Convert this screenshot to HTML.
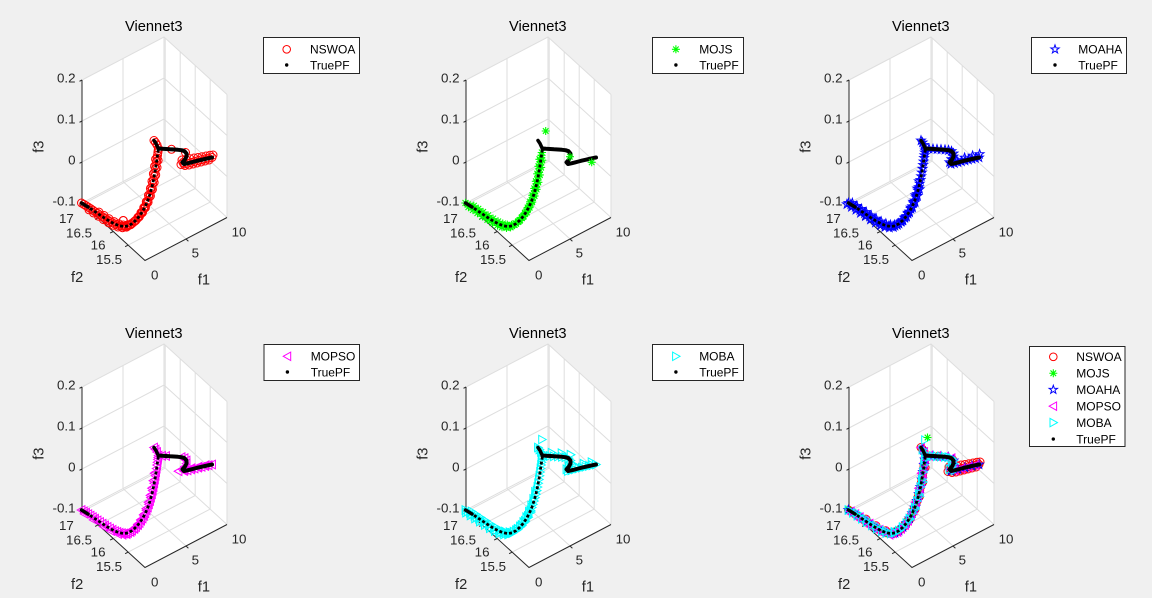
<!DOCTYPE html>
<html><head><meta charset="utf-8">
<style>
html,body{margin:0;padding:0;background:#f0f0f0;}
svg{display:block;}
text{font-family:"Liberation Sans",Arial,sans-serif;}
.t{font-size:14.67px;fill:#000;text-anchor:middle;}
.k{font-size:13.33px;fill:#262626;}
.e{text-anchor:end;}
.l{font-size:14.67px;fill:#262626;}
.m{text-anchor:middle;}
.g{font-size:12px;fill:#000;}
</style></head><body>
<svg width="1152" height="598" viewBox="0 0 1152 598" xmlns="http://www.w3.org/2000/svg">
<defs>
<marker id="mR" markerUnits="userSpaceOnUse" markerWidth="1" markerHeight="1" refX="0" refY="0" overflow="visible"><circle r="4" fill="none" stroke="#ff0000" stroke-width="1"/></marker>
<marker id="mG" markerUnits="userSpaceOnUse" markerWidth="1" markerHeight="1" refX="0" refY="0" overflow="visible"><path d="M0,-4.2V4.2M-4.2,0H4.2M-3,-3L3,3M3,-3L-3,3" stroke="#00ff00" stroke-width="1.1" fill="none"/></marker>
<marker id="mB" markerUnits="userSpaceOnUse" markerWidth="1" markerHeight="1" refX="0" refY="0" overflow="visible"><polygon points="0,-4.6 1.08,-1.48 4.37,-1.43 1.75,0.56 2.7,3.73 0,1.84 -2.7,3.73 -1.75,0.56 -4.37,-1.43 -1.08,-1.48" fill="none" stroke="#0000ff" stroke-width="1"/></marker>
<marker id="mM" markerUnits="userSpaceOnUse" markerWidth="1" markerHeight="1" refX="0" refY="0" overflow="visible"><polygon points="-4.3,0 3.4,-4.3 3.4,4.3" fill="none" stroke="#ff00ff" stroke-width="1"/></marker>
<marker id="mC" markerUnits="userSpaceOnUse" markerWidth="1" markerHeight="1" refX="0" refY="0" overflow="visible"><polygon points="4.3,0 -3.4,-4.3 -3.4,4.3" fill="none" stroke="#00ffff" stroke-width="1"/></marker>

<g id="sR"><circle r="3.8" fill="none" stroke="#ff0000" stroke-width="1"/></g>
<g id="sG"><path d="M0,-4V4M-4,0H4M-2.8,-2.8L2.8,2.8M2.8,-2.8L-2.8,2.8" stroke="#00ff00" stroke-width="1.1" fill="none"/></g>
<g id="sB"><polygon points="0,-4.4 1.03,-1.42 4.18,-1.36 1.67,0.54 2.59,3.56 0,1.76 -2.59,3.56 -1.67,0.54 -4.18,-1.36 -1.03,-1.42" fill="none" stroke="#0000ff" stroke-width="1"/></g>
<g id="sM"><polygon points="-4.2,0 3.3,-4.2 3.3,4.2" fill="none" stroke="#ff00ff" stroke-width="1"/></g>
<g id="sC"><polygon points="4.2,0 -3.3,-4.2 -3.3,4.2" fill="none" stroke="#00ffff" stroke-width="1"/></g>
<g id="sK"><circle r="1.7" fill="#000"/></g>

<g id="ax">
<polygon points="82,80 164,37 227,94.5 227,217.5 145,260.5 82,203" fill="#ffffff"/>
<path fill="none" stroke="#dedede" stroke-width="1" d="M82,80L164,37L227,94.5 M82,121L164,78L227,135.5 M82,162L164,119L227,176.5 M82,203L164,160L227,217.5 M123,181.5V58.5 M164,160V37 M165.2,161.1V38.1 M180.2,174.8V51.8 M195.2,188.5V65.5 M210.2,202.1V79.1 M227,217.5V94.5 M186,239L123,181.5 M128.2,245.1L210.2,202.1 M113.2,231.5L195.2,188.5 M98.2,217.8L180.2,174.8 M83.2,204.1L165.2,161.1"/>
<path fill="none" stroke="#262626" stroke-width="1" d="M82,80V203L145,260.5L227,217.5 M82,80l-2.5,1.3 M82,121l-2.5,1.3 M82,162l-2.5,1.3 M82,203l-2.5,1.3 M83.2,204.1l-3.1,1.6 M98.2,217.8l-3.1,1.6 M113.2,231.5l-3.1,1.6 M128.2,245.1l-3.1,1.6 M186,239l2.4,2.2"/>
</g>

<g id="tpf">
<path fill="none" stroke="#000" stroke-width="3.5" stroke-linecap="round" d="M81.5,203L88,207"/>
<path fill="none" stroke="#000" stroke-width="2.8" stroke-dasharray="3 2" d="M81.5,203L86,205.7 90.5,208.6 95,211.7 100,215 105,218.4 110,221.5 115,224.1 119.5,225.8 124,226.5 128,225.9 132,223.6 136,220.1 139.5,216 142.5,211.5 145.3,206.3 147.8,200.5 150,194 151.9,187.2 153.5,180 154.9,172.5 156.1,165 157.1,158 157.9,152.5 158.5,148.5"/>
<path fill="none" stroke="#000" stroke-width="3.5" stroke-linecap="round" stroke-linejoin="round" d="M158.5,149L156,143.5 154,140.5"/>
<path fill="none" stroke="#000" stroke-width="4" stroke-linecap="round" stroke-linejoin="round" d="M158.5,148.5L162,148.8 166,149 170,149.3 174,149.5 178,149.8 181.5,150.2 184.5,151.2 186.5,153.5 186.5,156.5 185,159.5 182.5,162.3 184,164 187.5,163.3 191,162.4 194.5,161.5 198,160.6 201.5,159.8 205,159 208.5,158.2 212,157.5"/>
</g>
</defs>

<rect width="1152" height="598" fill="#f0f0f0"/>

<!-- Plot 1: NSWOA -->
<g transform="translate(0,0)">
<use href="#ax"/>
<g fill="none" stroke="none" marker-start="url(#mR)" marker-mid="url(#mR)" marker-end="url(#mR)">
<path d="M81.5,203L83.75,204.35 86,205.7 88.25,207.15 90.5,208.6 92.75,210.15 95,211.7 97.5,213.35 100,215 102.5,216.7 105,218.4 107.5,219.95 110,221.5 112.5,222.8 115,224.1 117.25,224.95 119.5,225.8 121.75,226.15 124,226.5 126,226.2 128,225.9 130,224.75 132,223.6 134,221.85 136,220.1 137.75,218.05 139.5,216 141,213.75 142.5,211.5 143.9,208.9 145.3,206.3 146.55,203.4 147.8,200.5 148.9,197.25 150,194 150.95,190.6 151.9,187.2 152.7,183.6 153.5,180 154.2,176.25 154.9,172.5 155.5,168.75 156.1,165 156.6,161.5 157.1,158 157.5,155.25 157.9,152.5 158.2,150.5 158.5,148.5 157,145 155.5,142.5 154,140.5 M171.5,149.3L185.5,152.5 183,162.5 184,164 187.5,163.3 191,162.4 194.5,161.5 198,160.6 201.5,159.8 205,159 208.5,158.2 212,157.5 M182,160L186,159.5 190,158.8 194,158 198,157.5 202,156.8 206,156 210,155.3 213,155 M181,164.5L185,165.5 189,165 193,164 197,163 201,162 205,161 209,160"/>
<path transform="translate(-1.5,1.2)" d="M90.5,208.6L95,211.7 100,215 105,218.4 110,221.5 115,224.1 119.5,225.8 124,226.5 128,225.9 132,223.6 136,220.1 139.5,216 142.5,211.5 145.3,206.3 147.8,200.5 150,194 151.9,187.2 153.5,180 154.9,172.5 156.1,165 157.1,158"/>
<path transform="translate(1.5,-1.2)" d="M97.5,213.35L102.5,216.7 107.5,219.95 112.5,222.8 117.25,224.95 121.75,226.15 126,226.2 130,224.75 134,221.85 137.75,218.05 141,213.75 143.9,208.9 146.55,203.4 148.9,197.25 150.95,190.6 152.7,183.6 154.2,176.25 155.5,168.75 156.6,161.5 M121.7,221.7L121.8,221.7"/>
</g>
<use href="#tpf"/>
<text x="153.8" y="31" class="t">Viennet3</text>
<text x="75.5" y="82.3" class="k e">0.2</text>
<text x="75.5" y="123.3" class="k e">0.1</text>
<text x="75.5" y="164.3" class="k e">0</text>
<text x="75.5" y="205.3" class="k e">-0.1</text>
<text x="73.8" y="223" class="k e">17</text>
<text x="92" y="237.4" class="k e">16.5</text>
<text x="105.5" y="249.7" class="k e">16</text>
<text x="122" y="264" class="k e">15.5</text>
<text x="151" y="279.7" class="k">0</text>
<text x="191.6" y="257.4" class="k">5</text>
<text x="231.6" y="236.4" class="k">10</text>
<text x="71" y="282" class="l">f2</text>
<text x="197.8" y="284.6" class="l">f1</text>
<text transform="translate(43.6,146.7) rotate(-90)" class="l m">f3</text>
<rect x="263.5" y="37.5" width="96" height="36" fill="#fff" stroke="#262626" stroke-width="1"/>
<use href="#sR" x="286.7" y="49.3"/><text x="310" y="53.6" class="g">NSWOA</text>
<use href="#sK" x="286.7" y="65"/><text x="310" y="69.3" class="g">TruePF</text>
</g>

<!-- Plot 2: MOJS -->
<g transform="translate(384,0)">
<use href="#ax"/>
<g fill="none" stroke="none" marker-start="url(#mG)" marker-mid="url(#mG)" marker-end="url(#mG)">
<path d="M81.5,203L83.75,204.35 86,205.7 88.25,207.15 90.5,208.6 92.75,210.15 95,211.7 97.5,213.35 100,215 102.5,216.7 105,218.4 107.5,219.95 110,221.5 112.5,222.8 115,224.1 117.25,224.95 119.5,225.8 121.75,226.15 124,226.5 126,226.2 128,225.9 130,224.75 132,223.6 134,221.85 136,220.1 137.75,218.05 139.5,216 141,213.75 142.5,211.5 143.9,208.9 145.3,206.3 146.55,203.4 147.8,200.5 148.9,197.25 150,194 150.95,190.6 151.9,187.2 152.7,183.6 153.5,180 154.2,176.25 154.9,172.5 155.5,168.75 156.1,165 156.6,161.5 157.1,158 157.5,155.25 157.9,152.5"/>
<path transform="translate(-1.5,1.3)" d="M86,205.7L90.5,208.6 95,211.7 100,215 105,218.4 110,221.5 115,224.1 119.5,225.8 124,226.5 128,225.9 132,223.6 136,220.1 139.5,216 142.5,211.5 145.3,206.3 147.8,200.5 150,194 151.9,187.2 153.5,180 154.9,172.5 156.1,165 157.1,158"/>
<path transform="translate(1.5,-1.3)" d="M88.25,207.15L92.75,210.15 97.5,213.35 102.5,216.7 107.5,219.95 112.5,222.8 117.25,224.95 121.75,226.15 126,226.2 130,224.75 134,221.85 137.75,218.05 141,213.75 143.9,208.9 146.55,203.4 148.9,197.25 150.95,190.6 152.7,183.6 154.2,176.25 155.5,168.75 156.6,161.5"/>
</g>
<use href="#tpf"/>
<use href="#sG" x="161.7" y="131"/>
<use href="#sG" x="186" y="156.7"/>
<use href="#sG" x="207.7" y="162.3"/>
<text x="153.8" y="31" class="t">Viennet3</text>
<text x="75.5" y="82.3" class="k e">0.2</text>
<text x="75.5" y="123.3" class="k e">0.1</text>
<text x="75.5" y="164.3" class="k e">0</text>
<text x="75.5" y="205.3" class="k e">-0.1</text>
<text x="73.8" y="223" class="k e">17</text>
<text x="92" y="237.4" class="k e">16.5</text>
<text x="105.5" y="249.7" class="k e">16</text>
<text x="122" y="264" class="k e">15.5</text>
<text x="151" y="279.7" class="k">0</text>
<text x="191.6" y="257.4" class="k">5</text>
<text x="231.6" y="236.4" class="k">10</text>
<text x="71" y="282" class="l">f2</text>
<text x="197.8" y="284.6" class="l">f1</text>
<text transform="translate(43.6,146.7) rotate(-90)" class="l m">f3</text>
<rect x="268.5" y="37.5" width="91" height="36" fill="#fff" stroke="#262626" stroke-width="1"/>
<use href="#sG" x="291.9" y="49.3"/><text x="315.2" y="53.6" class="g">MOJS</text>
<use href="#sK" x="291.9" y="65"/><text x="315.2" y="69.3" class="g">TruePF</text>
</g>

<!-- Plot 3: MOAHA -->
<g transform="translate(767,0)">
<use href="#ax"/>
<g fill="none" stroke="none" marker-start="url(#mB)" marker-mid="url(#mB)" marker-end="url(#mB)">
<path d="M81.5,203L83.75,204.35 86,205.7 88.25,207.15 90.5,208.6 92.75,210.15 95,211.7 97.5,213.35 100,215 102.5,216.7 105,218.4 107.5,219.95 110,221.5 112.5,222.8 115,224.1 117.25,224.95 119.5,225.8 121.75,226.15 124,226.5 126,226.2 128,225.9 130,224.75 132,223.6 134,221.85 136,220.1 137.75,218.05 139.5,216 141,213.75 142.5,211.5 143.9,208.9 145.3,206.3 146.55,203.4 147.8,200.5 148.9,197.25 150,194 150.95,190.6 151.9,187.2 152.7,183.6 153.5,180 154.2,176.25 154.9,172.5 155.5,168.75 156.1,165 156.6,161.5 157.1,158 157.5,155.25 157.9,152.5 158.2,150.5 158.5,148.5 157,145 155.5,142.5 154,140.5 M162,148.8L166,149 170,149.3 174,149.5 178,149.8 181.5,150.2 184.5,151.2 186.5,153.5 186.5,156.5 185,159.5 182.5,162.3 184,164 187.5,163.3 191,162.4 194.5,161.5 198,160.6 201.5,159.8 205,159 208.5,158.2 212,157.5"/>
<path transform="translate(-1.6,1.3)" d="M81.5,203L86,205.7 90.5,208.6 95,211.7 100,215 105,218.4 110,221.5 115,224.1 119.5,225.8 124,226.5 128,225.9 132,223.6 136,220.1 139.5,216 142.5,211.5 145.3,206.3 147.8,200.5 150,194 151.9,187.2 153.5,180"/>
<path transform="translate(1.6,-1.3)" d="M83.75,204.35L88.25,207.15 92.75,210.15 97.5,213.35 102.5,216.7 107.5,219.95 112.5,222.8 117.25,224.95 121.75,226.15 126,226.2 130,224.75 134,221.85 137.75,218.05 141,213.75 143.9,208.9 146.55,203.4 148.9,197.25 150.95,190.6 M183,160.5L188,161.5 196,159 204,157 211,155.5"/>
</g>
<use href="#tpf"/>
<text x="153.8" y="31" class="t">Viennet3</text>
<text x="75.5" y="82.3" class="k e">0.2</text>
<text x="75.5" y="123.3" class="k e">0.1</text>
<text x="75.5" y="164.3" class="k e">0</text>
<text x="75.5" y="205.3" class="k e">-0.1</text>
<text x="73.8" y="223" class="k e">17</text>
<text x="92" y="237.4" class="k e">16.5</text>
<text x="105.5" y="249.7" class="k e">16</text>
<text x="122" y="264" class="k e">15.5</text>
<text x="151" y="279.7" class="k">0</text>
<text x="191.6" y="257.4" class="k">5</text>
<text x="231.6" y="236.4" class="k">10</text>
<text x="71" y="282" class="l">f2</text>
<text x="197.8" y="284.6" class="l">f1</text>
<text transform="translate(43.6,146.7) rotate(-90)" class="l m">f3</text>
<rect x="264.5" y="37.5" width="95" height="36" fill="#fff" stroke="#262626" stroke-width="1"/>
<use href="#sB" x="288" y="49.3"/><text x="311.3" y="53.6" class="g">MOAHA</text>
<use href="#sK" x="288" y="65"/><text x="311.3" y="69.3" class="g">TruePF</text>
</g>

<!-- Plot 4: MOPSO -->
<g transform="translate(0,307)">
<use href="#ax"/>
<g fill="none" stroke="none" marker-start="url(#mM)" marker-mid="url(#mM)" marker-end="url(#mM)">
<path d="M81.5,203L83.75,204.35 86,205.7 88.25,207.15 90.5,208.6 92.75,210.15 95,211.7 97.5,213.35 100,215 102.5,216.7 105,218.4 107.5,219.95 110,221.5 112.5,222.8 115,224.1 117.25,224.95 119.5,225.8 121.75,226.15 124,226.5 126,226.2 128,225.9 130,224.75 132,223.6 134,221.85 136,220.1 137.75,218.05 139.5,216 141,213.75 142.5,211.5 143.9,208.9 145.3,206.3 146.55,203.4 147.8,200.5 148.9,197.25 150,194 150.95,190.6 151.9,187.2 152.7,183.6 153.5,180 154.2,176.25 154.9,172.5 155.5,168.75 156.1,165 156.6,161.5 157.1,158 157.5,155.25 157.9,152.5 158.2,150.5 158.5,148.5 157,145 155.5,142.5 154,140.5 M162,148.8L166,149 181.5,150.2 184.5,151.2 186.5,153.5 186.5,156.5 185,159.5 182.5,162.3 184,164 187.5,163.3 191,162.4 194.5,161.5 198,160.6 201.5,159.8 205,159 208.5,158.2 212,157.5"/>
<path transform="translate(-1.5,1.2)" d="M86,205.7L95,211.7 105,218.4 112.5,222.8 119.5,225.8 124,226.5 128,225.9 132,223.6 136,220.1 139.5,216 142.5,211.5 145.3,206.3 147.8,200.5 150,194 151.9,187.2 153.5,180 154.9,172.5 156.1,165 M180,163L186,162 193,160 200,158.5 207,157"/>
</g>
<use href="#tpf"/>
<text x="153.8" y="31" class="t">Viennet3</text>
<text x="75.5" y="82.3" class="k e">0.2</text>
<text x="75.5" y="123.3" class="k e">0.1</text>
<text x="75.5" y="164.3" class="k e">0</text>
<text x="75.5" y="205.3" class="k e">-0.1</text>
<text x="73.8" y="223" class="k e">17</text>
<text x="92" y="237.4" class="k e">16.5</text>
<text x="105.5" y="249.7" class="k e">16</text>
<text x="122" y="264" class="k e">15.5</text>
<text x="151" y="279.7" class="k">0</text>
<text x="191.6" y="257.4" class="k">5</text>
<text x="231.6" y="236.4" class="k">10</text>
<text x="71" y="282" class="l">f2</text>
<text x="197.8" y="284.6" class="l">f1</text>
<text transform="translate(43.6,146.7) rotate(-90)" class="l m">f3</text>
<rect x="264" y="37.5" width="95.5" height="36" fill="#fff" stroke="#262626" stroke-width="1"/>
<use href="#sM" x="287.4" y="49.3"/><text x="310.7" y="53.6" class="g">MOPSO</text>
<use href="#sK" x="287.4" y="65"/><text x="310.7" y="69.3" class="g">TruePF</text>
</g>

<!-- Plot 5: MOBA -->
<g transform="translate(384,307)">
<use href="#ax"/>
<g fill="none" stroke="none" marker-start="url(#mC)" marker-mid="url(#mC)" marker-end="url(#mC)">
<path d="M81.5,203L83.75,204.35 86,205.7 88.25,207.15 90.5,208.6 92.75,210.15 95,211.7 97.5,213.35 100,215 102.5,216.7 105,218.4 107.5,219.95 110,221.5 112.5,222.8 115,224.1 117.25,224.95 119.5,225.8 121.75,226.15 124,226.5 126,226.2 128,225.9 130,224.75 132,223.6 134,221.85 136,220.1 137.75,218.05 139.5,216 141,213.75 142.5,211.5 143.9,208.9 145.3,206.3 146.55,203.4 147.8,200.5 148.9,197.25 150,194 150.95,190.6 151.9,187.2 152.7,183.6 153.5,180 154.2,176.25 154.9,172.5 155.5,168.75 156.1,165 156.6,161.5 157.1,158 157.5,155.25 157.9,152.5 158.2,150.5 158.5,148.5 157,145 155.5,142.5 154,140.5 M162,148.8L166,149 170,149.3 174,149.5 178,149.8 181.5,150.2 184.5,151.2 186.5,153.5 186.5,156.5 185,159.5 182.5,162.3 184,164 187.5,163.3 191,162.4 194.5,161.5 198,160.6 201.5,159.8 205,159 208.5,158.2 212,157.5"/>
<path transform="translate(-1.6,1.3)" d="M83.75,204.35L88.25,207.15 92.75,210.15 97.5,213.35 102.5,216.7 107.5,219.95 112.5,222.8 117.25,224.95 121.75,226.15 126,226.2 130,224.75 134,221.85 137.75,218.05 141,213.75 143.9,208.9 146.55,203.4 148.9,197.25 150.95,190.6 152.7,183.6"/>
<path transform="translate(1.6,-1.3)" d="M86,205.7L90.5,208.6 95,211.7 100,215 105,218.4 110,221.5 115,224.1 119.5,225.8 124,226.5 128,225.9 132,223.6 136,220.1 139.5,216 142.5,211.5 145.3,206.3 M166,147L176,147.5 185,149 M183,160.5L190,160 198,158 206,156.5"/>
</g>
<use href="#tpf"/>
<use href="#sC" x="158" y="132.5"/>
<text x="153.8" y="31" class="t">Viennet3</text>
<text x="75.5" y="82.3" class="k e">0.2</text>
<text x="75.5" y="123.3" class="k e">0.1</text>
<text x="75.5" y="164.3" class="k e">0</text>
<text x="75.5" y="205.3" class="k e">-0.1</text>
<text x="73.8" y="223" class="k e">17</text>
<text x="92" y="237.4" class="k e">16.5</text>
<text x="105.5" y="249.7" class="k e">16</text>
<text x="122" y="264" class="k e">15.5</text>
<text x="151" y="279.7" class="k">0</text>
<text x="191.6" y="257.4" class="k">5</text>
<text x="231.6" y="236.4" class="k">10</text>
<text x="71" y="282" class="l">f2</text>
<text x="197.8" y="284.6" class="l">f1</text>
<text transform="translate(43.6,146.7) rotate(-90)" class="l m">f3</text>
<rect x="268.5" y="37.5" width="91" height="36" fill="#fff" stroke="#262626" stroke-width="1"/>
<use href="#sC" x="291.9" y="49.3"/><text x="315.2" y="53.6" class="g">MOBA</text>
<use href="#sK" x="291.9" y="65"/><text x="315.2" y="69.3" class="g">TruePF</text>
</g>

<!-- Plot 6: all -->
<g transform="translate(767,307)">
<use href="#ax"/>
<g fill="none" stroke="none" marker-start="url(#mR)" marker-mid="url(#mR)" marker-end="url(#mR)">
<path d="M81.5,203L83.75,204.35 86,205.7 88.25,207.15 90.5,208.6 92.75,210.15 95,211.7 97.5,213.35 100,215 102.5,216.7 105,218.4 107.5,219.95 110,221.5 112.5,222.8 115,224.1 117.25,224.95 119.5,225.8 121.75,226.15 124,226.5 126,226.2 128,225.9 130,224.75 132,223.6 134,221.85 136,220.1 137.75,218.05 139.5,216 141,213.75 142.5,211.5 143.9,208.9 145.3,206.3 146.55,203.4 147.8,200.5 148.9,197.25 150,194 150.95,190.6 151.9,187.2 152.7,183.6 153.5,180 154.2,176.25 154.9,172.5 155.5,168.75 156.1,165 156.6,161.5 157.1,158 157.5,155.25 157.9,152.5 158.2,150.5 158.5,148.5 157,145 155.5,142.5 154,140.5 M171.5,149.3L185.5,152.5 183,162.5 184,164 187.5,163.3 191,162.4 194.5,161.5 198,160.6 201.5,159.8 205,159 208.5,158.2 212,157.5 M182,160L186,159.5 190,158.8 194,158 198,157.5 202,156.8 206,156 210,155.3 213,155 M181,164.5L185,165.5 189,165 193,164 197,163 201,162 205,161 209,160"/>
<path transform="translate(1.5,-1.2)" d="M97.5,213.35L107.5,219.95 117.25,224.95 126,226.2 134,221.85 141,213.75 146.55,203.4 150.95,190.6 154.2,176.25 156.6,161.5"/>
</g>
<g fill="none" stroke="none" marker-start="url(#mG)" marker-mid="url(#mG)" marker-end="url(#mG)">
<path d="M81.5,203L86,205.7 90.5,208.6 95,211.7 100,215 105,218.4 110,221.5 115,224.1 119.5,225.8 124,226.5 128,225.9 132,223.6 136,220.1 139.5,216 142.5,211.5 145.3,206.3 147.8,200.5 150,194 151.9,187.2 153.5,180 154.9,172.5 156.1,165 157.1,158 157.9,152.5"/>
</g>
<g fill="none" stroke="none" marker-start="url(#mB)" marker-mid="url(#mB)" marker-end="url(#mB)">
<path d="M81.5,203L86,205.7 90.5,208.6 95,211.7 100,215 105,218.4 110,221.5 115,224.1 119.5,225.8 124,226.5 128,225.9 132,223.6 136,220.1 139.5,216 142.5,211.5 145.3,206.3 147.8,200.5 150,194 151.9,187.2 153.5,180 154.9,172.5 156.1,165 157.1,158 157.9,152.5 158.5,148.5 155.5,142.5 M166,149L174,149.5 181.5,150.2 186.5,153.5 185,159.5 184,164 191,162.4 198,160.6 205,159 212,157.5"/>
</g>
<g fill="none" stroke="none" marker-start="url(#mM)" marker-mid="url(#mM)" marker-end="url(#mM)">
<path d="M83.75,204.35L88.25,207.15 92.75,210.15 97.5,213.35 102.5,216.7 107.5,219.95 112.5,222.8 117.25,224.95 121.75,226.15 126,226.2 130,224.75 134,221.85 137.75,218.05 141,213.75 143.9,208.9 146.55,203.4 148.9,197.25 150.95,190.6 152.7,183.6 154.2,176.25 155.5,168.75 156.6,161.5 157.5,155.25 158.2,150.5 157,145 154,140.5 M162,148.8L170,149.3 178,149.8 184.5,151.2 186.5,156.5 182.5,162.3 187.5,163.3 194.5,161.5 201.5,159.8 208.5,158.2"/>
<path transform="translate(-1.5,1.2)" d="M86,205.7L95,211.7 105,218.4 115,224.1 124,226.5 132,223.6 139.5,216 145.3,206.3 150,194 153.5,180 156.1,165"/>
</g>
<g fill="none" stroke="none" marker-start="url(#mC)" marker-mid="url(#mC)" marker-end="url(#mC)">
<path d="M81.5,203L86,205.7 90.5,208.6 95,211.7 100,215 105,218.4 110,221.5 115,224.1 119.5,225.8 124,226.5 128,225.9 132,223.6 136,220.1 139.5,216 142.5,211.5 145.3,206.3 147.8,200.5 150,194 151.9,187.2 153.5,180 154.9,172.5 156.1,165 157.1,158 157.9,152.5 158.5,148.5 155.5,142.5 M162,148.8L166,149 170,149.3 174,149.5 178,149.8 181.5,150.2 184.5,151.2 186.5,153.5 186.5,156.5 185,159.5 182.5,162.3 187.5,163.3"/>
<path transform="translate(1.6,-1.3)" d="M88.25,207.15L97.5,213.35 107.5,219.95 117.25,224.95 126,226.2 134,221.85 141,213.75 146.55,203.4 150.95,190.6 154.2,176.25"/>
</g>
<use href="#tpf"/>
<use href="#sC" x="158" y="133"/>
<use href="#sG" x="160.5" y="130.5"/>
<text x="153.8" y="31" class="t">Viennet3</text>
<text x="75.5" y="82.3" class="k e">0.2</text>
<text x="75.5" y="123.3" class="k e">0.1</text>
<text x="75.5" y="164.3" class="k e">0</text>
<text x="75.5" y="205.3" class="k e">-0.1</text>
<text x="73.8" y="223" class="k e">17</text>
<text x="92" y="237.4" class="k e">16.5</text>
<text x="105.5" y="249.7" class="k e">16</text>
<text x="122" y="264" class="k e">15.5</text>
<text x="151" y="279.7" class="k">0</text>
<text x="191.6" y="257.4" class="k">5</text>
<text x="231.6" y="236.4" class="k">10</text>
<text x="71" y="282" class="l">f2</text>
<text x="197.8" y="284.6" class="l">f1</text>
<text transform="translate(43.6,146.7) rotate(-90)" class="l m">f3</text>
<rect x="262.5" y="39.5" width="95.5" height="100" fill="#fff" stroke="#262626" stroke-width="1"/>
<use href="#sR" x="286.3" y="49.8"/><text x="309.3" y="54.1" class="g">NSWOA</text>
<use href="#sG" x="286.3" y="66.25"/><text x="309.3" y="70.55" class="g">MOJS</text>
<use href="#sB" x="286.3" y="82.7"/><text x="309.3" y="87" class="g">MOAHA</text>
<use href="#sM" x="286.3" y="99.15"/><text x="309.3" y="103.45" class="g">MOPSO</text>
<use href="#sC" x="286.3" y="115.6"/><text x="309.3" y="119.9" class="g">MOBA</text>
<use href="#sK" x="286.3" y="132.05"/><text x="309.3" y="136.35" class="g">TruePF</text>
</g>
</svg>
</body></html>
